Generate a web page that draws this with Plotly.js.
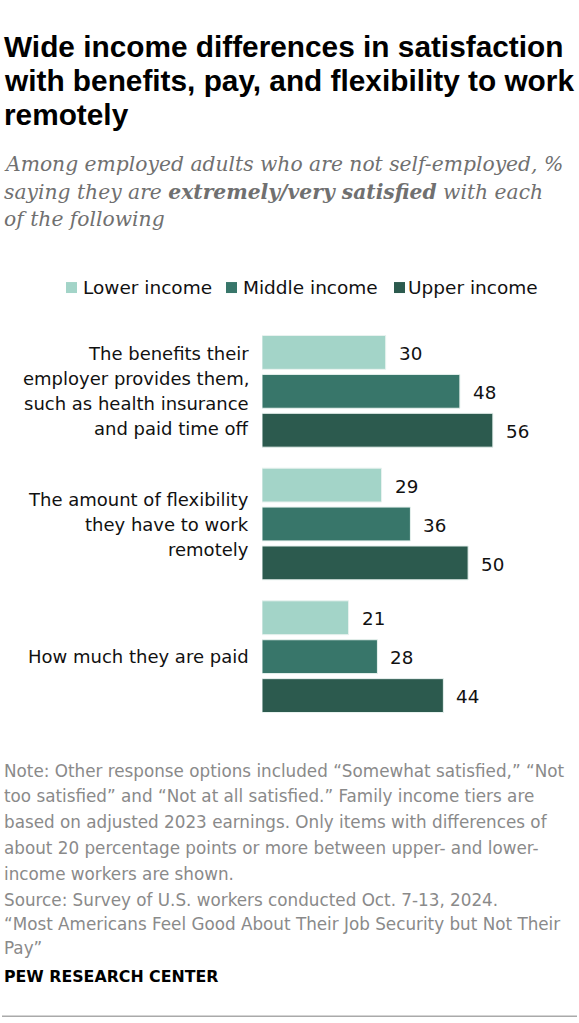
<!DOCTYPE html>
<html>
<head>
<meta charset="utf-8">
<script src="https://cdn.plot.ly/plotly-3.0.1.min.js"></script>
<style>
html,body{margin:0;padding:0;background:#fff;}
#chart{width:579px;height:1023px;}
</style>
</head>
<body>
<div id="chart"></div>
<script>
// ---- Data ----
const categories = [
  "The benefits their<br>employer provides them,<br>such as health insurance<br>and paid time off",
  "The amount of flexibility<br>they have to work<br>remotely",
  "How much they are paid"
];
const seriesNames = ["Lower income", "Middle income", "Upper income"];
const lowerIncome = [30, 29, 21];
const middleIncome = [48, 36, 28];
const upperIncome = [56, 50, 44];
const seriesColors = ["#a3d4c8", "#38766a", "#2c5a4e"];

const titleLines = [
  "Wide income differences in satisfaction",
  "with benefits, pay, and flexibility to work",
  "remotely"
];
const subtitleLines = [
  "Among employed adults who are not self-employed, %",
  "saying they are <b>extremely/very satisfied</b> with each",
  "of the following"
];
const noteLines = [
  "Note: Other response options included \u201cSomewhat satisfied,\u201d \u201cNot",
  "too satisfied\u201d and \u201cNot at all satisfied.\u201d Family income tiers are",
  "based on adjusted 2023 earnings. Only items with differences of",
  "about 20 percentage points or more between upper- and lower-",
  "income workers are shown."
];
const sourceLines = [
  "Source: Survey of U.S. workers conducted Oct. 7-13, 2024.",
  "\u201cMost Americans Feel Good About Their Job Security but Not Their",
  "Pay\u201d"
];
const brand = "PEW RESEARCH CENTER";

// ---- Layout geometry ----
const W = 579, H = 1023;
const plotTop = 325, plotBottom = 723.4;
const mL = 262, mR = 14;
const py = px => (plotBottom - px) / (plotBottom - plotTop); // pixel -> paper y
const pxX = px => (px - mL) / (W - mL - mR);                 // pixel -> paper x

const values = [lowerIncome, middleIncome, upperIncome];
const traces = values.map((v, i) => ({
  type: 'bar',
  orientation: 'h',
  name: seriesNames[i],
  x: v,
  y: categories,
  marker: {color: seriesColors[i], line: {color: '#e8f2ef', width: 1}},
  hoverinfo: 'none',
  showlegend: false
}));

const annotations = [];
const sansFont = "DejaVu Sans, Verdana, sans-serif";

// Title
titleLines.forEach((t, i) => {
  annotations.push({
    xref: 'paper', yref: 'paper', x: pxX(2), y: py(46 + i * 34),
    xanchor: 'left', yanchor: 'middle', align: 'left', showarrow: false,
    text: '<b>' + t + '</b>',
    font: {family: "Liberation Sans, Arial, sans-serif", size: 29.8, color: '#000'}
  });
});
// Subtitle lines
subtitleLines.forEach((t, i) => {
  annotations.push({
    xref: 'paper', yref: 'paper', x: pxX(2), y: py(164 + i * 27.5),
    xanchor: 'left', yanchor: 'middle', align: 'left', showarrow: false,
    text: '<i>' + t + '</i>',
    font: {family: "DejaVu Serif, Georgia, serif", size: 20.3, color: '#707070'}
  });
});
// Legend
const legendSquares = [66, 226, 394];
const legendText = [83, 243, 408];
const shapes = [];
seriesNames.forEach((n, i) => {
  shapes.push({
    type: 'rect', xref: 'paper', yref: 'paper',
    x0: pxX(legendSquares[i]), x1: pxX(legendSquares[i] + 11),
    y0: py(293), y1: py(282),
    fillcolor: seriesColors[i], line: {width: 0}
  });
  annotations.push({
    xref: 'paper', yref: 'paper', x: pxX(legendText[i] - 2), y: py(287.5),
    xanchor: 'left', yanchor: 'middle', showarrow: false,
    text: n, font: {family: sansFont, size: 18.5, color: '#111'}
  });
});
// Category labels (one annotation per line)
const lineH = 25;
categories.forEach((c, ci) => {
  const lines = c.split('<br>');
  lines.forEach((ln, li) => {
    annotations.push({
      xref: 'paper', yref: 'y', x: pxX(251), y: c,
      xanchor: 'right', yanchor: 'middle', align: 'right', showarrow: false,
      yshift: -((li - (lines.length - 1) / 2) * lineH),
      text: ln, font: {family: sansFont, size: 18, color: '#111'}
    });
  });
});
// Value labels
const barStep = 39;
values.forEach((v, si) => {
  v.forEach((val, ci) => {
    annotations.push({
      xref: 'x', yref: 'y', x: val, y: categories[ci],
      xanchor: 'left', yanchor: 'middle', showarrow: false,
      xshift: 11, yshift: -((si - 1) * barStep) - 1,
      text: String(val), font: {family: sansFont, size: 18.3, color: '#111'}
    });
  });
});
// Notes
const noteFont = {family: sansFont, size: 16.8, color: '#8a8a8a'};
noteLines.forEach((t, i) => {
  annotations.push({
    xref: 'paper', yref: 'paper', x: pxX(2), y: py(771 + i * 25.8),
    xanchor: 'left', yanchor: 'middle', align: 'left', showarrow: false,
    text: t, font: noteFont
  });
});
sourceLines.forEach((t, i) => {
  annotations.push({
    xref: 'paper', yref: 'paper', x: pxX(2), y: py(901 + i * 24),
    xanchor: 'left', yanchor: 'middle', align: 'left', showarrow: false,
    text: t, font: noteFont
  });
});
annotations.push({
  xref: 'paper', yref: 'paper', x: pxX(2), y: py(977),
  xanchor: 'left', yanchor: 'middle', align: 'left', showarrow: false,
  text: '<b>' + brand + '</b>', font: {family: sansFont, size: 15.8, color: '#000'}
});
shapes.push({
  type: 'line', xref: 'paper', yref: 'paper',
  x0: pxX(2), x1: pxX(577), y0: py(1017), y1: py(1017),
  line: {color: '#aaaaaa', width: 1.5}
});

const layout = {
  width: W, height: H,
  margin: {l: mL, r: mR, t: plotTop, b: H - plotBottom, pad: 0},
  paper_bgcolor: '#fff', plot_bgcolor: '#fff',
  barmode: 'group', bargap: 0.12, bargroupgap: 0.13,
  xaxis: {range: [0, 73.5], visible: false, fixedrange: true},
  yaxis: {type: 'category', autorange: 'reversed', showticklabels: false,
          showgrid: false, zeroline: false, showline: false, ticks: '', fixedrange: true},
  showlegend: false,
  annotations: annotations,
  shapes: shapes
};

Plotly.newPlot('chart', traces, layout, {displayModeBar: false, staticPlot: true});
</script>
</body>
</html>
